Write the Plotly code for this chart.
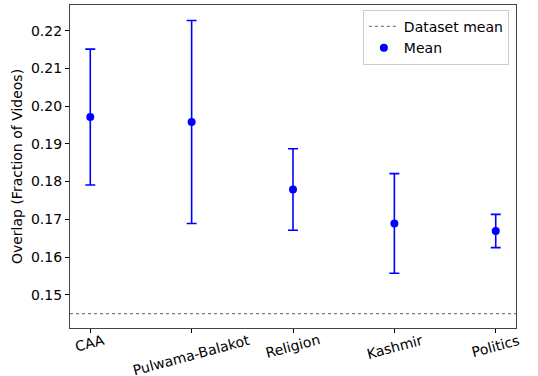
import plotly.graph_objects as go

# topic means with error
topics = ["CAA", "Pulwama-Balakot", "Religion", "Kashmir", "Politics"]
means = [0.1971, 0.1958, 0.1779, 0.1689, 0.1669]
errors = [0.0180, 0.0269, 0.0108, 0.0132, 0.0044]
dataset_mean = 0.145

FONT = "DejaVu Sans"

fig = go.Figure()

fig.add_trace(go.Scatter(
    x=topics, y=means, mode="markers", name="Mean",
    marker=dict(color="#0000ff", size=8),
    error_y=dict(type="data", array=errors, color="#0000ff", thickness=1.6, width=5),
    legendrank=2,
))

fig.add_hline(y=dataset_mean, line=dict(color="#7f7f7f", dash="dot", width=1.2),
              showlegend=True, name="Dataset mean", legendrank=1)

# rotated tick labels, centred under each tick like matplotlib
for t in topics:
    fig.add_annotation(x=t, y=0, xref="x", yref="paper", text=t, showarrow=False,
                       textangle=-15, xanchor="center", yanchor="top", yshift=-1,
                       font=dict(family=FONT, size=14, color="black"))

fig.update_xaxes(
    type="category", range=[-0.2, 4.2], showticklabels=False,
    ticks="outside", ticklen=4, tickcolor="black",
    showline=True, linecolor="#444", linewidth=1.3, mirror=True,
    showgrid=False, zeroline=False,
)
fig.update_yaxes(
    range=[0.1412, 0.2268], dtick=0.01, tick0=0.15, tickformat=".2f",
    ticks="outside", ticklen=4, tickcolor="black",
    showline=True, linecolor="#444", linewidth=1.3, mirror=True,
    showgrid=False, zeroline=False,
    title=dict(text="Overlap (Fraction of Videos)", standoff=4,
               font=dict(family=FONT, size=14, color="black")),
    tickfont=dict(family=FONT, size=14, color="black"),
)

fig.update_layout(
    width=538, height=376,
    margin=dict(l=70, r=22, t=5, b=47.5),
    plot_bgcolor="white", paper_bgcolor="white",
    font=dict(family=FONT, size=14, color="black"),
    legend=dict(x=0.984, y=0.985, xanchor="right", yanchor="top",
                bordercolor="#cccccc", borderwidth=1, bgcolor="rgba(255,255,255,0.8)",
                font=dict(family=FONT, size=14), tracegroupgap=0),
)

# page body has a default 8px margin; drop it so the figure sits at the corner
fig.write_html("out.html", config={"displayModeBar": False},
               post_script="document.body.style.margin='0';")
